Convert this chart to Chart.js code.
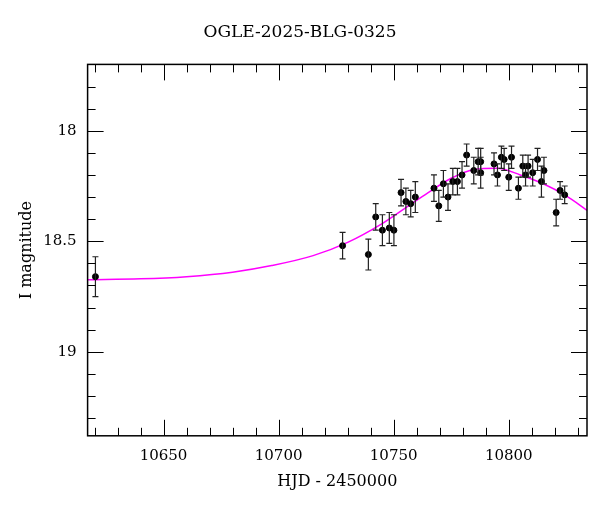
<!DOCTYPE html>
<html><head><meta charset="utf-8">
<script src="https://cdn.jsdelivr.net/npm/chart.js@4"></script>
<style>html,body{margin:0;background:#fff}#w{width:600px;height:512px}</style>
</head><body><div id="w"><canvas id="c"></canvas></div>
<script>
const hjd = [10620.4,10727.8,10739.0,10742.2,10745.1,10748.1,10750.1,10753.2,10755.3,10757.4,10759.4,10767.5,10769.6,10771.6,10773.6,10775.7,10777.7,10779.7,10781.7,10784.8,10786.7,10787.8,10787.8,10793.6,10795.1,10796.8,10798.0,10800.0,10801.2,10804.2,10806.1,10807.3,10808.4,10810.4,10812.5,10814.2,10815.3,10820.6,10822.3,10824.3];
const mag = [18.66,18.52,18.56,18.39,18.45,18.44,18.45,18.28,18.32,18.33,18.30,18.26,18.34,18.24,18.30,18.23,18.23,18.20,18.11,18.18,18.14,18.14,18.19,18.15,18.20,18.12,18.13,18.21,18.12,18.26,18.16,18.20,18.16,18.19,18.13,18.23,18.18,18.37,18.27,18.29];
const err = [0.09,0.06,0.07,0.06,0.07,0.07,0.07,0.06,0.06,0.06,0.07,0.06,0.07,0.06,0.06,0.06,0.06,0.06,0.05,0.06,0.06,0.06,0.07,0.05,0.05,0.05,0.05,0.06,0.05,0.05,0.05,0.05,0.05,0.06,0.05,0.07,0.06,0.06,0.04,0.04];
const modelX = [10617,10640,10660,10680,10697,10715,10730,10745,10755,10765,10775,10785,10795,10805,10815,10825,10834];
const modelY = [18.674,18.67,18.66,18.64,18.61,18.565,18.505,18.42,18.35,18.28,18.215,18.175,18.17,18.20,18.24,18.295,18.36];
const xTicks = [10650,10700,10750,10800];
const yTicks = [18,18.5,19];
const font = "'DejaVu Serif', serif";

const decor = {
  id:'decor',
  afterDatasetsDraw(ch){
    const c=ch.ctx,x=ch.scales.x,y=ch.scales.y,a=ch.chartArea;
    c.save();
    c.strokeStyle='#222';c.lineWidth=1.2;
    for(let i=0;i<hjd.length;i++){
      const px=x.getPixelForValue(hjd[i]);
      const t=y.getPixelForValue(mag[i]-err[i]), b=y.getPixelForValue(mag[i]+err[i]);
      c.beginPath();c.moveTo(px,t);c.lineTo(px,b);
      c.moveTo(px-3,t);c.lineTo(px+3,t);c.moveTo(px-3,b);c.lineTo(px+3,b);c.stroke();
    }
    c.strokeStyle='#000';c.lineWidth=1;
    c.beginPath();
    for(let v=10620;v<=10830;v+=10){
      const px=Math.round(x.getPixelForValue(v))+0.5;const L=(v%50===0)?16:8;
      c.moveTo(px,a.bottom);c.lineTo(px,a.bottom-L);c.moveTo(px,a.top);c.lineTo(px,a.top+L);
    }
    for(let k=18;k<=193;k++){
      const v=k/10;if(v<17.7||v>19.38)continue;
      const py=Math.round(y.getPixelForValue(v))+0.5;const L=(k%5===0)?16:8;
      c.moveTo(a.left,py);c.lineTo(a.left+L,py);c.moveTo(a.right,py);c.lineTo(a.right-L,py);
    }
    c.stroke();
    c.lineWidth=1.5;c.strokeRect(a.left,a.top,a.right-a.left,a.bottom-a.top);
    c.restore();
  }
};

new Chart(document.getElementById('c'),{
  type:'scatter',
  data:{datasets:[
    {data:hjd.map((v,i)=>({x:v,y:mag[i]})),backgroundColor:'#000',borderColor:'#000',pointRadius:3,order:0},
    {type:'line',data:modelX.map((v,i)=>({x:v,y:modelY[i]})),borderColor:'#ff00ff',borderWidth:1.5,pointRadius:0,cubicInterpolationMode:'monotone',order:1}
  ]},
  options:{
    responsive:true,maintainAspectRatio:false,animation:false,
    layout:{padding:{left:13,right:13,top:10,bottom:17}},
    plugins:{legend:{display:false},tooltip:{enabled:false},
      title:{display:true,text:'OGLE-2025-BLG-0325',color:'#000',font:{family:font,size:17,weight:'normal'},padding:{top:12,bottom:22}}},
    scales:{
      x:{type:'linear',min:10617,max:10834,afterBuildTicks:s=>{s.ticks=xTicks.map(v=>({value:v}))},
        grid:{display:false},border:{display:false},
        ticks:{color:'#000',font:{family:font,size:15},callback:v=>v,maxRotation:0},
        title:{display:true,text:'HJD - 2450000',color:'#000',font:{family:font,size:16}}},
      y:{type:'linear',reverse:true,min:17.7,max:19.38,afterBuildTicks:s=>{s.ticks=yTicks.map(v=>({value:v}))},
        grid:{display:false},border:{display:false},
        ticks:{color:'#000',font:{family:font,size:15},callback:v=>v},
        title:{display:true,text:'I magnitude',color:'#000',font:{family:font,size:16}}}
    }
  },
  plugins:[decor]
});
</script></body></html>
